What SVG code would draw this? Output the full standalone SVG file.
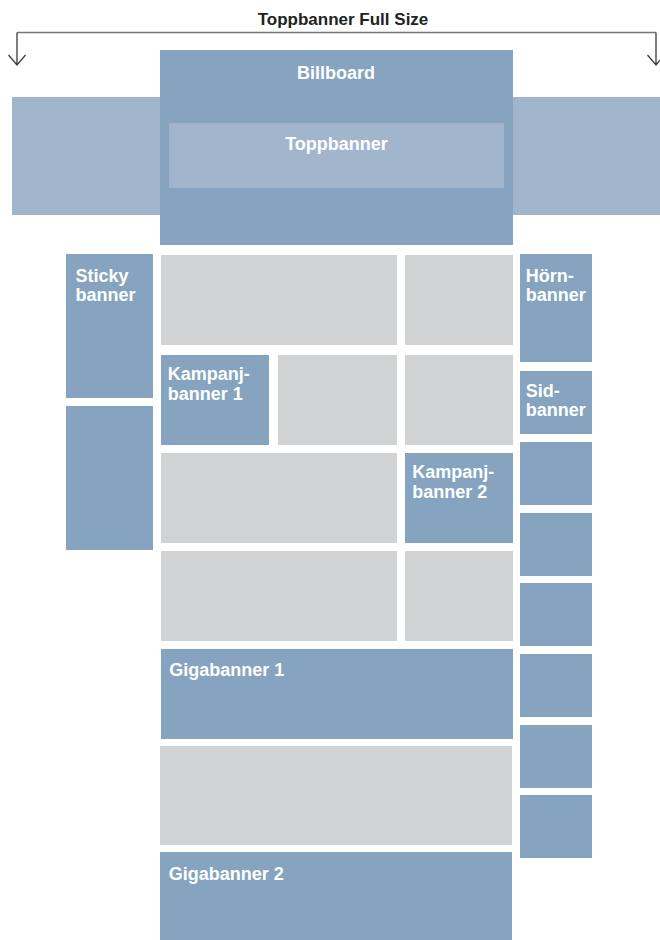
<svg xmlns="http://www.w3.org/2000/svg" width="660" height="940" viewBox="0 0 660 940">
<style>
.b{fill:#86a4c0}
.l{fill:#a1b6cd}
.g{fill:#d1d2d4}
.t{font-family:"Liberation Sans",Arial,sans-serif;font-weight:bold;font-size:18px;fill:#ffffff}
.c{text-anchor:middle}
.title{font-family:"Liberation Sans",Arial,sans-serif;font-weight:bold;font-size:17px;fill:#222222;text-anchor:middle}
</style>
<rect width="660" height="940" fill="#ffffff"/>
<text class="title" x="343" y="25">Toppbanner Full Size</text>
<g id="connectors" fill="none" stroke-width="1.3">
<path d="M17,32.5 H656" stroke="#777777"/>
<path d="M17,32.5 V65 M8.5,55 L17,65 L25.5,55" stroke="#3a3a3a"/>
<path d="M656,32.5 V65 M647.5,55 L656,65 L664.5,55" stroke="#3a3a3a"/>
</g>
<g id="wing-left"><rect class="l" x="12" y="97" width="150" height="118"/></g>
<g id="wing-right"><rect class="l" x="511" y="97" width="149" height="118"/></g>
<g id="billboard"><rect class="b" x="160" y="50" width="353" height="195"/><text class="t c" x="336" y="79">Billboard</text></g>
<g id="toppbanner"><rect class="l" x="169" y="123" width="335" height="65"/><text class="t c" x="336.5" y="150">Toppbanner</text></g>
<g id="sticky"><rect class="b" x="66" y="254" width="87" height="144"/><text class="t" x="75.5" y="282.3">Sticky</text><text class="t" x="75.5" y="300.8">banner</text></g>
<g id="left2"><rect class="b" x="66" y="406" width="87" height="144"/></g>
<g id="gray-r1a"><rect class="g" x="161" y="255" width="236" height="90"/></g>
<g id="gray-r1b"><rect class="g" x="405" y="255" width="108" height="90"/></g>
<g id="kampanj1"><rect class="b" x="161" y="355" width="108" height="90"/><text class="t" x="167.7" y="380">Kampanj-</text><text class="t" x="167.7" y="400">banner 1</text></g>
<g id="gray-r2b"><rect class="g" x="278" y="355" width="119" height="90"/></g>
<g id="gray-r2c"><rect class="g" x="405" y="355" width="108" height="90"/></g>
<g id="gray-r3a"><rect class="g" x="161" y="453" width="236" height="90"/></g>
<g id="kampanj2"><rect class="b" x="405" y="453" width="108" height="90"/><text class="t" x="412.3" y="478.3">Kampanj-</text><text class="t" x="412.3" y="498.3">banner 2</text></g>
<g id="gray-r4a"><rect class="g" x="161" y="551" width="236" height="90"/></g>
<g id="gray-r4b"><rect class="g" x="405" y="551" width="108" height="90"/></g>
<g id="gigabanner1"><rect class="b" x="161" y="649" width="352" height="90"/><text class="t" x="169.3" y="676">Gigabanner 1</text></g>
<g id="gray-big"><rect class="g" x="160" y="746" width="352" height="99"/></g>
<g id="gigabanner2"><rect class="b" x="160" y="852" width="352" height="88"/><text class="t" x="168.7" y="880">Gigabanner 2</text></g>
<g id="hornbanner"><rect class="b" x="520" y="254" width="72" height="108"/><text class="t" x="525.7" y="282.3">Hörn-</text><text class="t" x="525.7" y="300.8">banner</text></g>
<g id="sidbanner"><rect class="b" x="520" y="371" width="72" height="63"/><text class="t" x="525.7" y="396.7">Sid-</text><text class="t" x="525.7" y="415.7">banner</text></g>
<g id="side3"><rect class="b" x="520" y="442" width="72" height="63"/></g>
<g id="side4"><rect class="b" x="520" y="513" width="72" height="63"/></g>
<g id="side5"><rect class="b" x="520" y="583" width="72" height="63"/></g>
<g id="side6"><rect class="b" x="520" y="654" width="72" height="63"/></g>
<g id="side7"><rect class="b" x="520" y="725" width="72" height="63"/></g>
<g id="side8"><rect class="b" x="520" y="795" width="72" height="63"/></g>
</svg>
